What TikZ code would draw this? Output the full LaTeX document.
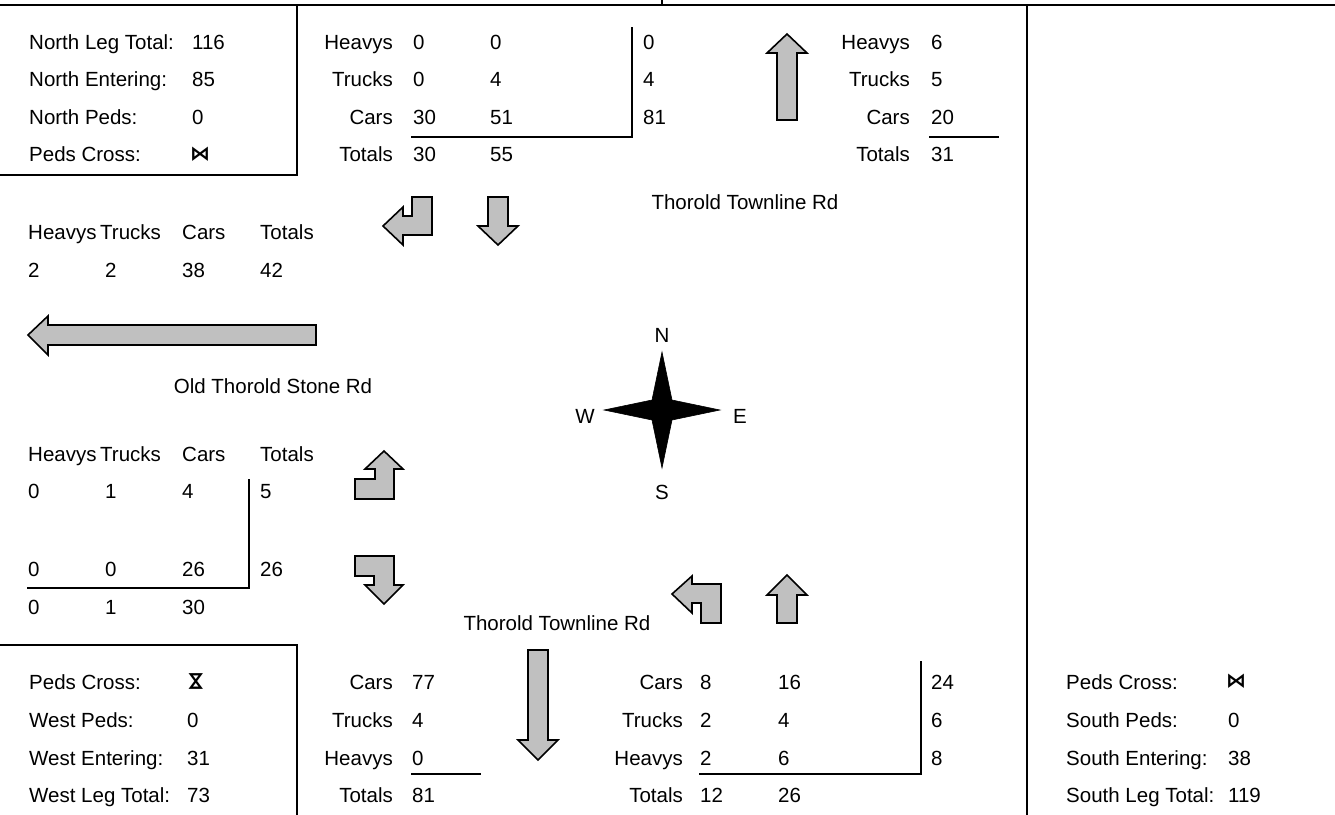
\documentclass[tikz,border=0pt]{standalone}
\usepackage{fontspec}
\setmainfont{Liberation Sans}
\newfontfamily\symfont{DejaVu Sans}
\definecolor{arrowgray}{RGB}{192,192,192}
\tikzset{
  lbl/.style={anchor=base west, inner sep=0pt, font=\fontsize{20.5}{24}\selectfont},
  rlbl/.style={lbl, anchor=base east},
  clbl/.style={lbl, anchor=base},
  sym/.style={anchor=center, inner sep=0pt, font=\symfont\bfseries\fontsize{20}{22}\selectfont},
  rule/.style={line width=1.6pt, line cap=rect},
  arr/.style={draw=black, fill=arrowgray, line width=1.6pt, line join=miter},
  star/.style={fill=black, draw=black, line width=0.6pt, line join=miter},
}
\begin{document}
\begin{tikzpicture}[x=1pt,y=-1pt]
\useasboundingbox (0,0) rectangle (1335,814);
% frame lines
\coordinate (tl) at (0,5); \coordinate (tr) at (1335,5);
\coordinate (tick1) at (662,0); \coordinate (tick2) at (662,5);
\draw[rule] (tl) -- (tr);
\draw[rule] (tick1) -- (tick2);
\coordinate (rv1) at (1027,5); \coordinate (rv2) at (1027,814);
\draw[rule] (rv1) -- (rv2);
\coordinate (nwa) at (0,175); \coordinate (nwb) at (297,175); \coordinate (nwc) at (297,5);
\draw[rule] (nwa) -- (nwb) -- (nwc);
\coordinate (swa) at (0,645); \coordinate (swb) at (297,645); \coordinate (swc) at (297,814);
\draw[rule] (swa) -- (swb) -- (swc);

% North box
\node[lbl] (nlt) at (29,49) {North Leg Total:};
\node[lbl] (nltv) at (192,49) {116};
\node[lbl] (nen) at (29,86.5) {North Entering:};
\node[lbl] (nenv) at (192,86.5) {85};
\node[lbl] (npd) at (29,124) {North Peds:};
\node[lbl] (npdv) at (192,124) {0};
\node[lbl] (npc) at (29,161.5) {Peds Cross:};
\node[sym] (npcv) at (200,154) {⋈};

% top-centre table
\node[rlbl] (tch) at (393,49) {Heavys};
\node[rlbl] (tct) at (393,86.5) {Trucks};
\node[rlbl] (tcc) at (393,124) {Cars};
\node[rlbl] (tco) at (393,161.5) {Totals};
\node[lbl] (tch1) at (413,49) {0};
\node[lbl] (tch2) at (490,49) {0};
\node[lbl] (tch3) at (643,49) {0};
\node[lbl] (tct1) at (413,86.5) {0};
\node[lbl] (tct2) at (490,86.5) {4};
\node[lbl] (tct3) at (643,86.5) {4};
\node[lbl] (tcc1) at (413,124) {30};
\node[lbl] (tcc2) at (490,124) {51};
\node[lbl] (tcc3) at (643,124) {81};
\node[lbl] (tco1) at (413,161.5) {30};
\node[lbl] (tco2) at (490,161.5) {55};
\coordinate (tcl1) at (412,137); \coordinate (tcl2) at (632,137); \coordinate (tcl3) at (632,28);
\draw[rule] (tcl1) -- (tcl2) -- (tcl3);

% top-right table
\node[rlbl] (trh) at (910,49) {Heavys};
\node[rlbl] (trt) at (910,86.5) {Trucks};
\node[rlbl] (trc) at (910,124) {Cars};
\node[rlbl] (tro) at (910,161.5) {Totals};
\node[lbl] (trh1) at (931,49) {6};
\node[lbl] (trt1) at (931,86.5) {5};
\node[lbl] (trc1) at (931,124) {20};
\node[lbl] (tro1) at (931,161.5) {31};
\coordinate (trl1) at (930,137); \coordinate (trl2) at (998,137);
\draw[rule] (trl1) -- (trl2);

% up arrow (north exit)
\draw[arr] (777,120) -- (797,120) -- (797,53) -- (807,53) -- (787,34) -- (767,53) -- (777,53) -- cycle;

% road names
\node[clbl] (rdn) at (745,209) {Thorold Townline Rd};
\node[clbl] (rdw) at (273,393) {Old Thorold Stone Rd};
\node[clbl] (rds) at (557,630) {Thorold Townline Rd};

% north approach arrows
\draw[arr] (412,197) -- (432,197) -- (432,235) -- (403,235) -- (403,245) -- (383,226) -- (403,207) -- (403,216) -- (412,216) -- cycle;
\draw[arr] (488,197) -- (508,197) -- (508,226) -- (518,226) -- (498,245) -- (478,226) -- (488,226) -- cycle;

% west exit table
\node[lbl] (w1h) at (28,239) {Heavys};
\node[lbl] (w1t) at (100,239) {Trucks};
\node[lbl] (w1c) at (182,239) {Cars};
\node[lbl] (w1o) at (260,239) {Totals};
\node[lbl] (w1h1) at (28,277) {2};
\node[lbl] (w1t1) at (105,277) {2};
\node[lbl] (w1c1) at (182,277) {38};
\node[lbl] (w1o1) at (260,277) {42};

% long west arrow
\draw[arr] (316,325) -- (316,345) -- (48,345) -- (48,355) -- (28,335) -- (48,316) -- (48,325) -- cycle;

% west approach table
\node[lbl] (w2h) at (28,461) {Heavys};
\node[lbl] (w2t) at (100,461) {Trucks};
\node[lbl] (w2c) at (182,461) {Cars};
\node[lbl] (w2o) at (260,461) {Totals};
\node[lbl] (w2a1) at (28,498) {0};
\node[lbl] (w2a2) at (105,498) {1};
\node[lbl] (w2a3) at (182,498) {4};
\node[lbl] (w2a4) at (260,498) {5};
\node[lbl] (w2b1) at (28,576) {0};
\node[lbl] (w2b2) at (105,576) {0};
\node[lbl] (w2b3) at (182,576) {26};
\node[lbl] (w2b4) at (260,576) {26};
\node[lbl] (w2c1) at (28,614) {0};
\node[lbl] (w2c2) at (105,614) {1};
\node[lbl] (w2c3) at (182,614) {30};
\coordinate (wl1) at (28,588); \coordinate (wl2) at (249,588); \coordinate (wl3) at (249,480);
\draw[rule] (wl1) -- (wl2) -- (wl3);

% west approach arrows
\draw[arr] (355,499) -- (394,499) -- (394,469) -- (403,469) -- (384,451) -- (365,469) -- (375,469) -- (375,479) -- (355,479) -- cycle;
\draw[arr] (355,556) -- (394,556) -- (394,585) -- (403,585) -- (384,604) -- (365,585) -- (374,585) -- (374,576) -- (355,576) -- cycle;

% compass
\coordinate (cc) at (662,410);
\fill[star] (662,352) -- (672,400) -- (720,410) -- (672,420) -- (662,468) -- (652,420) -- (604,410) -- (652,400) -- cycle;
\node[clbl] (cn) at (662,342) {N};
\node[clbl] (cs) at (662,499) {S};
\node[clbl] (cw) at (585,423) {W};
\node[clbl] (ce) at (740,423) {E};

% south approach arrows
\draw[arr] (721,623) -- (721,584) -- (692,584) -- (692,576) -- (672,594) -- (692,613) -- (692,603) -- (701,603) -- (701,623) -- cycle;
\draw[arr] (777,623) -- (797,623) -- (797,595) -- (807,595) -- (787,575) -- (767,595) -- (777,595) -- cycle;

% south exit arrow
\draw[arr] (528,650) -- (548,650) -- (548,740) -- (558,740) -- (538,760) -- (518,740) -- (528,740) -- cycle;

% West box
\node[lbl] (wpc) at (29,689) {Peds Cross:};
\node[sym, rotate=90] (wpcv) at (196,681) {⋈};
\node[lbl] (wpd) at (29,727) {West Peds:};
\node[lbl] (wpdv) at (187,727) {0};
\node[lbl] (wen) at (29,765) {West Entering:};
\node[lbl] (wenv) at (187,765) {31};
\node[lbl] (wlt) at (29,802) {West Leg Total:};
\node[lbl] (wltv) at (187,802) {73};

% bottom-centre table
\node[rlbl] (bcc) at (393,689) {Cars};
\node[rlbl] (bct) at (393,727) {Trucks};
\node[rlbl] (bch) at (393,765) {Heavys};
\node[rlbl] (bco) at (393,802) {Totals};
\node[lbl] (bcc1) at (412,689) {77};
\node[lbl] (bct1) at (412,727) {4};
\node[lbl] (bch1) at (412,765) {0};
\node[lbl] (bco1) at (412,802) {81};
\coordinate (bcl1) at (412,774); \coordinate (bcl2) at (480,774);
\draw[rule] (bcl1) -- (bcl2);

% bottom-right table
\node[rlbl] (brc) at (683,689) {Cars};
\node[rlbl] (brt) at (683,727) {Trucks};
\node[rlbl] (brh) at (683,765) {Heavys};
\node[rlbl] (bro) at (683,802) {Totals};
\node[lbl] (brc1) at (700,689) {8};
\node[lbl] (brc2) at (778,689) {16};
\node[lbl] (brc3) at (931,689) {24};
\node[lbl] (brt1) at (700,727) {2};
\node[lbl] (brt2) at (778,727) {4};
\node[lbl] (brt3) at (931,727) {6};
\node[lbl] (brh1) at (700,765) {2};
\node[lbl] (brh2) at (778,765) {6};
\node[lbl] (brh3) at (931,765) {8};
\node[lbl] (bro1) at (700,802) {12};
\node[lbl] (bro2) at (778,802) {26};
\coordinate (brl1) at (700,774); \coordinate (brl2) at (921,774); \coordinate (brl3) at (921,662);
\draw[rule] (brl1) -- (brl2) -- (brl3);

% South box
\node[lbl] (spc) at (1066,689) {Peds Cross:};
\node[sym] (spcv) at (1236,681) {⋈};
\node[lbl] (spd) at (1066,727) {South Peds:};
\node[lbl] (spdv) at (1228,727) {0};
\node[lbl] (sen) at (1066,765) {South Entering:};
\node[lbl] (senv) at (1228,765) {38};
\node[lbl] (slt) at (1066,802) {South Leg Total:};
\node[lbl] (sltv) at (1228,802) {119};
\end{tikzpicture}
\end{document}
